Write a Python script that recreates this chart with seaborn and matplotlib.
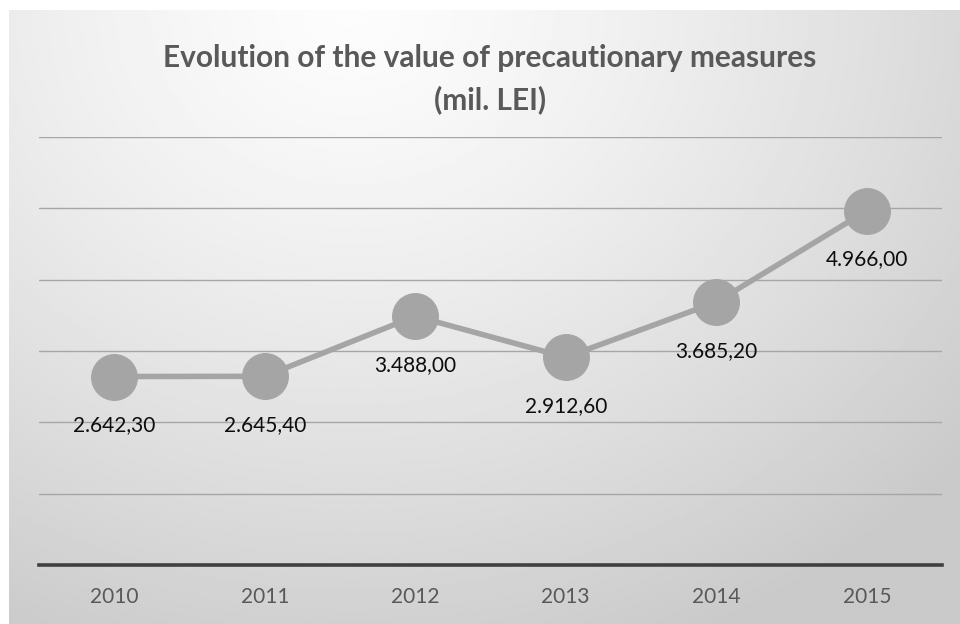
import numpy as np
import pandas as pd
import matplotlib
matplotlib.use("Agg")
import matplotlib.pyplot as plt
import seaborn as sns

years = ["2010", "2011", "2012", "2013", "2014", "2015"]
values = [2642.30, 2645.40, 3488.00, 2912.60, 3685.20, 4966.00]
title_lines = ["Evolution of the value of precautionary measures", "(mil. LEI)"]

sns.set_theme(style="white")
plt.rcParams["font.family"] = ["Lato", "DejaVu Sans"]

W, H = 960, 624
fig = plt.figure(figsize=(W / 100, H / 100), dpi=100)
fig.patch.set_facecolor("white")

# soft radial grey background panel
bg = fig.add_axes([9 / W, 0, (W - 9) / W, (H - 10) / H])
bg.set_axis_off()
gx, gy = np.meshgrid(np.linspace(0, 1, 400), np.linspace(0, 1, 260))
cx, cy = 0.36, 0.0
r = np.sqrt(((gx - cx) * 1.0) ** 2 + ((gy - cy) * 0.75) ** 2)
shade = 0.99 - 0.20 * np.clip(r / 0.85, 0, 1) ** 1.3
bg.imshow(shade, cmap="gray", vmin=0, vmax=1, aspect="auto",
          extent=[0, 1, 1, 0], interpolation="bilinear")
bg.set_xlim(0, 1)
bg.set_ylim(1, 0)

# main plotting area
left, right = 39 / W, 942 / W
bottom, top = (H - 565) / H, (H - 137) / H
ax = fig.add_axes([left, bottom, right - left, top - bottom])
ax.patch.set_alpha(0)

df = pd.DataFrame({"year": years, "value": values})
sns.lineplot(data=df, x="year", y="value", ax=ax, color="#a5a5a5",
             linewidth=4.0, marker="o", markersize=33,
             markerfacecolor="#a5a5a5", markeredgecolor="#a5a5a5",
             zorder=3)

ax.set_xlim(-0.5, len(years) - 0.5)
ax.set_ylim(0, 6000)
ax.set_yticks(np.arange(1000, 6001, 1000))
ax.yaxis.grid(True, color="#a6a6a6", linewidth=1.0)
ax.xaxis.grid(False)
ax.set_axisbelow(True)
ax.tick_params(axis="y", left=False, labelleft=False)
ax.tick_params(axis="x", bottom=False, colors="#595959", labelsize=15, pad=10)
for lbl in ax.get_xticklabels():
    lbl.set_color("#595959")
ax.set_xlabel("")
ax.set_ylabel("")
for s in ["top", "right", "left"]:
    ax.spines[s].set_visible(False)
ax.spines["bottom"].set_color("#404040")
ax.spines["bottom"].set_linewidth(2.6)


def fmt(v):
    s = f"{v:,.2f}"
    return s.replace(",", "X").replace(".", ",").replace("X", ".")


for i, v in enumerate(values):
    ax.annotate(fmt(v), xy=(i, v), xytext=(0, -35), textcoords="offset points",
                ha="center", va="center", fontsize=15, color="#0d0d0d",
                zorder=4)

fig.text(490 / W, 1 - 58 / H, title_lines[0], ha="center", va="center",
         fontsize=21.5, fontweight="bold", color="#595959")
fig.text(490 / W, 1 - 100 / H, title_lines[1], ha="center", va="center",
         fontsize=21.5, fontweight="bold", color="#595959")

fig.savefig("out.png", dpi=100)
